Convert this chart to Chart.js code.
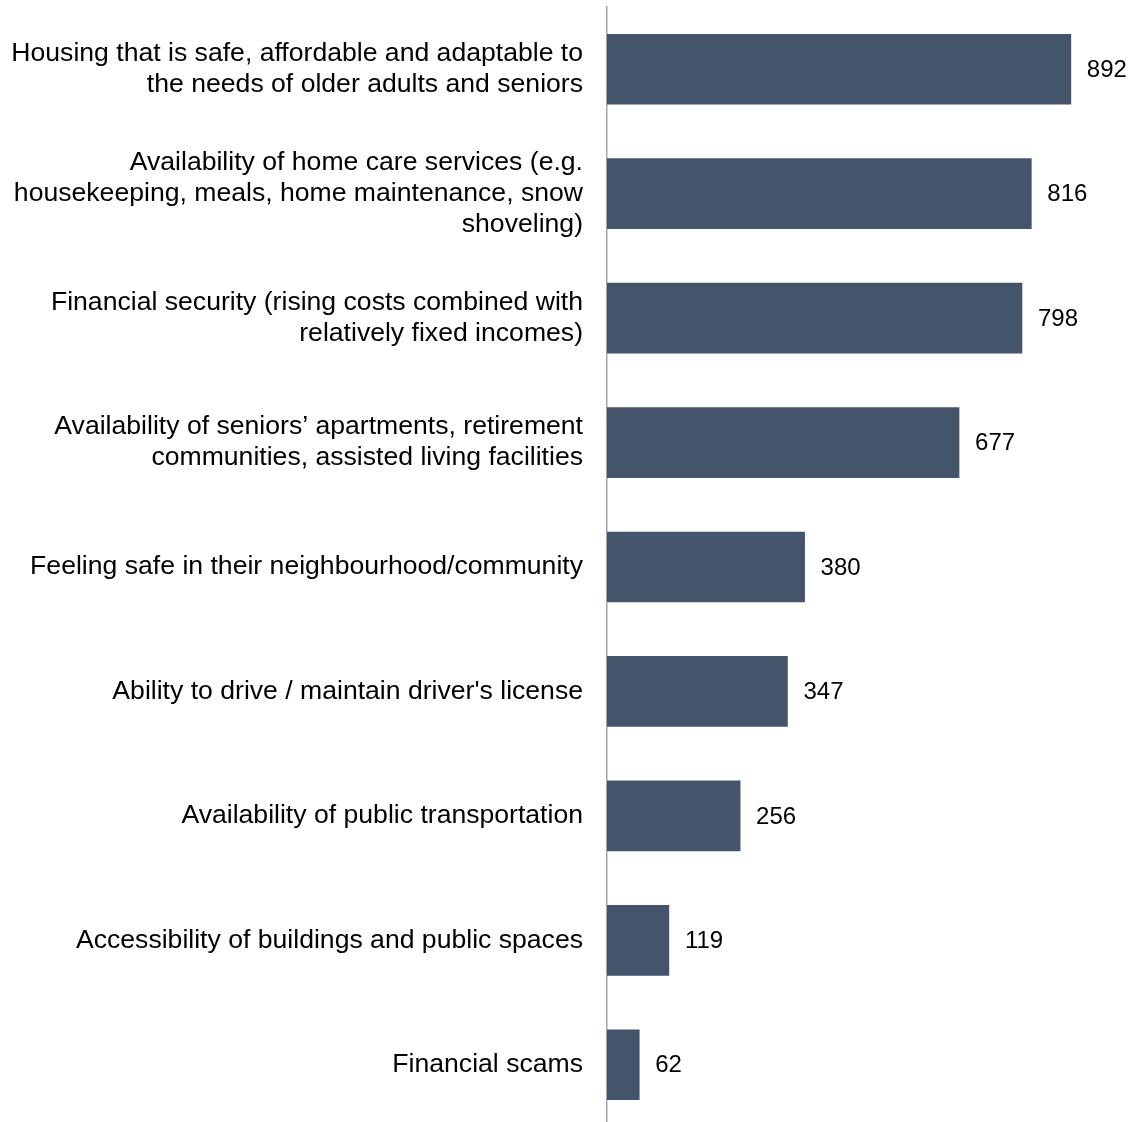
<!DOCTYPE html>
<html>
<head>
<meta charset="utf-8">
<script src="https://cdn.jsdelivr.net/npm/chart.js@4/dist/chart.umd.min.js"></script>
<style>
  html, body { margin: 0; padding: 0; background: #fff; overflow: hidden; }
  #wrap { position: relative; width: 1131px; height: 1127px; }
</style>
</head>
<body>
<div id="wrap"><canvas id="concernsChart"></canvas></div>
<script>
// --- DATA ---
const categories = [
    ["Housing that is safe, affordable and adaptable to", "the needs of older adults and seniors"],
    ["Availability of home care services (e.g.", "housekeeping, meals, home maintenance, snow", "shoveling)"],
    ["Financial security (rising costs combined with", "relatively fixed incomes)"],
    ["Availability of seniors\u2019 apartments, retirement", "communities, assisted living facilities"],
    "Feeling safe in their neighbourhood/community",
    "Ability to drive / maintain driver's license",
    "Availability of public transportation",
    "Accessibility of buildings and public spaces",
    "Financial scams"
];
const counts = [892, 816, 798, 677, 380, 347, 256, 119, 62];

const FONT = "Arial, 'Liberation Sans', sans-serif";

// value printed just past the end of each bar
const barValueLabels = {
    id: 'barValueLabels',
    afterDatasetsDraw(chart) {
        const ctx = chart.ctx;
        const meta = chart.getDatasetMeta(0);
        ctx.save();
        ctx.font = "24px " + FONT;
        ctx.fillStyle = "#000";
        ctx.textAlign = "left";
        ctx.textBaseline = "middle";
        meta.data.forEach((bar, i) => {
            ctx.fillText(String(counts[i]), bar.x + 16, bar.y + 1);
        });
        ctx.restore();
    }
};

const ctx = document.getElementById('concernsChart');
window.concernsChart = new Chart(ctx, {
    type: 'bar',
    data: {
        labels: categories,
        datasets: [{
            data: counts,
            backgroundColor: '#44546a',
            borderWidth: 0,
            barThickness: 70
        }]
    },
    options: {
        indexAxis: 'y',
        responsive: true,
        maintainAspectRatio: false,
        animation: false,
        layout: { padding: { top: 7, right: 4, left: 0, bottom: 0 } },
        plugins: {
            legend: { display: false },
            tooltip: { enabled: false }
        },
        scales: {
            x: {
                display: false,
                min: 0,
                max: 1000
            },
            y: {
                grid: { display: false, drawTicks: false },
                border: { display: true, color: '#a6a6a6', width: 1.5 },
                ticks: {
                    color: '#000',
                    padding: 24,
                    font: { family: FONT, size: 26.6, lineHeight: 1.17 }
                },
                afterFit(scale) {
                    // fixed label column, no extra room for tall first/last labels
                    scale.width = 607;
                    scale.paddingTop = 0;
                    scale.paddingBottom = 0;
                }
            }
        }
    },
    plugins: [barValueLabels]
});
</script>
</body>
</html>
